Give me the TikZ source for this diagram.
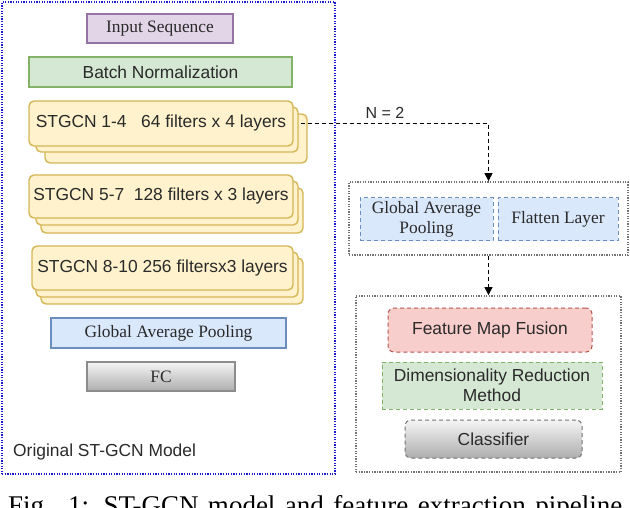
\documentclass[tikz,border=0pt]{standalone}
\usepackage{fontspec}
\setmainfont{Liberation Serif}
\setsansfont{Liberation Sans}
\usetikzlibrary{arrows.meta}
\definecolor{purpfill}{HTML}{E1D5E7}
\definecolor{purpline}{HTML}{9673A6}
\definecolor{greenfill}{HTML}{D5E8D4}
\definecolor{greenline}{HTML}{82B366}
\definecolor{yelfill}{HTML}{FFF2CC}
\definecolor{yelline}{HTML}{D6B656}
\definecolor{bluefill}{HTML}{DAE8FC}
\definecolor{blueline}{HTML}{6C8EBF}
\definecolor{redfill}{HTML}{F8CECC}
\definecolor{redline}{HTML}{B85450}
\definecolor{outerblue}{HTML}{1A1ACC}
\definecolor{txt}{HTML}{2A2A2A}
\tikzset{
  sans/.style={font=\sffamily\fontsize{17.4}{20.5}\selectfont, text=txt},
  serif/.style={font=\rmfamily\fontsize{17.4}{20.5}\selectfont, text=txt},
  box/.style={draw, line width=1.4pt, inner sep=0pt, align=center},
  layer/.style={box, rounded corners=5pt, fill=yelfill, draw=yelline},
  dbox/.style={box, line width=1pt, dash pattern=on 4pt off 3pt},
  outerbox/.style={draw=outerblue, line width=2pt, dash pattern=on 1.3pt off 1.3pt},
  grpbox/.style={draw=black!55, line width=1.8pt, dash pattern=on 1.3pt off 1.3pt},
  flow/.style={draw=black, line width=1pt, dash pattern=on 4pt off 3pt, -{Triangle[length=8pt,width=8pt]}},
  grayshade/.style={top color=black!4, bottom color=black!32}
}
\begin{document}
\begin{tikzpicture}[x=1pt,y=-1pt]
\useasboundingbox (0,0) rectangle (630,508);
\fill[white] (0,0) rectangle (630,508);

% left outer box
\node[outerbox, minimum width=333pt, minimum height=472pt, inner sep=0pt] (outer) at (168.5,238) {};
\node[sans, anchor=west, inner sep=0pt] (outerlbl) at (13,452) {Original ST-GCN Model};

\node[box, serif, fill=purpfill, draw=purpline, minimum width=146pt, minimum height=29pt] (in) at (160,28.5) {Input Sequence};
\node[box, sans, fill=greenfill, draw=greenline, minimum width=263pt, minimum height=30pt] (bn) at (160.5,72) {Batch Normalization};

% STGCN 1-4
\node[layer, minimum width=262pt, minimum height=49pt] (s1c) at (176,138.5) {};
\node[layer, minimum width=262pt, minimum height=45pt] (s1b) at (167,129.5) {};
\node[layer, sans, minimum width=264pt, minimum height=45pt] (s1) at (161,123.5) {STGCN 1-4\ \ \ 64 filters x 4 layers};
% STGCN 5-7
\node[layer, minimum width=262pt, minimum height=45pt] (s2c) at (172,210.5) {};
\node[layer, minimum width=262pt, minimum height=44pt] (s2b) at (167,203) {};
\node[layer, sans, minimum width=264pt, minimum height=43pt] (s2) at (161,196.5) {STGCN 5-7\ \ 128 filters x 3 layers};
% STGCN 8-10
\node[layer, minimum width=262pt, minimum height=46pt] (s3c) at (172,281) {};
\node[layer, minimum width=262pt, minimum height=45pt] (s3b) at (167,274.5) {};
\node[layer, sans, minimum width=261pt, minimum height=44pt] (s3) at (162.5,268) {STGCN 8-10 256 filtersx3 layers};

\node[box, serif, fill=bluefill, draw=blueline, minimum width=235pt, minimum height=30pt] (gap) at (168.5,333) {Global Average Pooling};
\node[box, serif, grayshade, draw=black!45, minimum width=148pt, minimum height=29pt] (fc) at (161,376.5) {FC};

% right group 1
\node[grpbox, minimum width=279pt, minimum height=73pt, inner sep=0pt] (g1) at (488.5,218.5) {};
\node[dbox, serif, fill=bluefill, draw=blueline, minimum width=133pt, minimum height=43pt] (gap2) at (426.5,219.5) {Global Average\\Pooling};
\node[dbox, serif, fill=bluefill, draw=blueline, minimum width=120pt, minimum height=43pt] (flat) at (558,219.5) {Flatten Layer};

% right group 2
\node[grpbox, minimum width=265pt, minimum height=176pt, inner sep=0pt] (g2) at (488.5,384) {};
\node[dbox, sans, rounded corners=6pt, fill=redfill, draw=redline, minimum width=204pt, minimum height=44pt] (fmf) at (490,330) {Feature Map Fusion};
\node[dbox, sans, fill=greenfill, draw=greenline, minimum width=220pt, minimum height=47pt] (dim) at (492,385.5) {Dimensionality Reduction\\Method};
\node[dbox, sans, rounded corners=6pt, grayshade, draw=black!55, minimum width=177pt, minimum height=38pt] (cls) at (493.5,439) {Classifier};

% connectors
\draw[flow, shorten <=7pt] (s1.east) -| (g1.north);
\node[font=\sffamily\fontsize{16}{18}\selectfont, text=txt, inner sep=0pt] (nlbl) at (385,113) {N = 2};
\draw[flow] (g1.south) -- (g2.north);

% caption (cut off at the bottom edge, as in the reference)
\begin{scope}
\clip (0,0) rectangle (630,508);
\node[anchor=base west, inner sep=0pt, font=\rmfamily\fontsize{27}{30}\selectfont] (cap) at (8,514) {\makebox[614pt][s]{Fig. 1: ST-GCN model and feature extraction pipeline}};
\end{scope}
\end{tikzpicture}
\end{document}
